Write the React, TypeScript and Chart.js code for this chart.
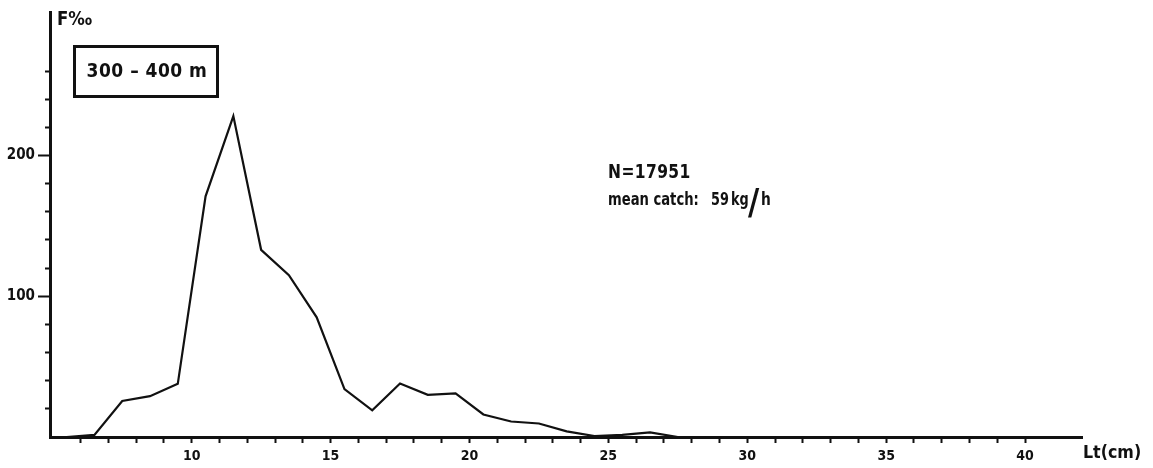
import React, { useEffect, useRef } from "react";
import { Chart, registerables } from "chart.js";

Chart.register(...registerables);

// ---- data ----
const lengthClasses = [5.5, 6.5, 7.5, 8.5, 9.5, 10.5, 11.5, 12.5, 13.5, 14.5, 15.5, 16.5, 17.5, 18.5, 19.5, 20.5, 21.5, 22.5, 23.5, 24.5, 25.5, 26.5, 27.5, 28.5];
const frequency = [0, 1.5, 25.6, 29, 37.8, 171, 228, 133, 115, 85, 34, 19, 38, 30, 31, 16, 11, 9.6, 4, 0.7, 1.5, 3.3, 0, 0];
const xLabelValues = [10, 15, 20, 25, 30, 35, 40];
const yLabelValues = [100, 200];
const depthLabel = "300 – 400 m";
const sampleLabel = "N=17951";
const catchLabel = "mean catch:";
const catchValue = "59";
const catchUnitTop = "kg";
const catchSlash = "/";
const catchUnitBottom = "h";
const yTitle = "F‰";
const xTitle = "Lt(cm)";

const FONT = "'DejaVu Sans Condensed', 'Liberation Sans Narrow', 'Liberation Sans', sans-serif";
const INK = "#111";

function drawText(
  ctx: CanvasRenderingContext2D,
  s: string,
  x: number,
  y: number,
  size: number,
  sx: number,
  align: CanvasTextAlign = "left",
  spacing = 0
) {
  ctx.save();
  ctx.font = `bold ${size}px ${FONT}`;
  (ctx as any).letterSpacing = `${spacing}px`;
  ctx.textAlign = align;
  ctx.textBaseline = "alphabetic";
  ctx.translate(x, y);
  ctx.scale(sx, 1);
  ctx.fillText(s, 0, 0);
  ctx.restore();
}

const annotations = {
  id: "annotations",
  afterDraw(chart: any) {
    const ctx = chart.ctx as CanvasRenderingContext2D;
    ctx.save();
    ctx.fillStyle = INK;
    ctx.strokeStyle = INK;
    // depth box
    ctx.lineWidth = 3;
    ctx.strokeRect(74.5, 46.5, 143, 50);
    drawText(ctx, depthLabel, 147, 77, 20, 0.95, "center", 0.5);
    // axis titles
    drawText(ctx, yTitle, 57, 25, 20, 0.92);
    drawText(ctx, xTitle, 1083, 458, 18, 0.98);
    // N and catch
    drawText(ctx, sampleLabel, 608, 178, 20, 0.86, "left", 0.5);
    drawText(ctx, catchLabel, 608, 205, 17, 0.86);
    drawText(ctx, catchValue, 711, 205, 17, 0.84);
    drawText(ctx, catchUnitTop, 731, 205, 17, 0.84);
    drawText(ctx, catchSlash, 748, 214, 36, 0.95);
    drawText(ctx, catchUnitBottom, 761, 205, 17, 0.9);
    ctx.restore();
  },
};

export default function App() {
  const ref = useRef<HTMLCanvasElement | null>(null);

  useEffect(() => {
    document.body.style.margin = "0";
    document.body.style.background = "#fff";
    const canvas = ref.current;
    if (!canvas) return;
    const chart = new Chart(canvas, {
      type: "line",
      data: {
        datasets: [
          {
            data: lengthClasses.map((x, i) => ({ x, y: frequency[i] })),
            borderColor: INK,
            borderWidth: 2.2,
            pointRadius: 0,
            tension: 0,
            fill: false,
          },
        ],
      },
      options: {
        animation: false,
        responsive: false,
        devicePixelRatio: 1,
        layout: { padding: { top: 8, right: 71, left: 0, bottom: 0 } },
        plugins: { legend: { display: false }, tooltip: { enabled: false } },
        scales: {
          x: {
            type: "linear",
            min: 4.9,
            max: 42.05,
            afterFit: (s: any) => {
              s.height = 31;
            },
            afterBuildTicks: (s: any) => {
              s.ticks = s.ticks.filter((t: any) => t.value >= 6 && t.value <= 40);
            },
            border: { display: true, color: INK, width: 3 },
            grid: {
              display: true,
              drawOnChartArea: false,
              drawTicks: true,
              tickLength: 6,
              tickColor: INK,
              tickWidth: 2,
            },
            ticks: {
              stepSize: 1,
              includeBounds: false,
              autoSkip: false,
              maxRotation: 0,
              padding: 5,
              color: INK,
              font: { family: FONT, size: 14, weight: "bold" },
              callback: (v: any) => (xLabelValues.includes(Number(v)) ? String(v) : ""),
            },
          },
          y: {
            type: "linear",
            min: 0,
            max: 302,
            afterFit: (s: any) => {
              s.width = 50;
            },
            afterBuildTicks: (s: any) => {
              s.ticks = s.ticks.filter((t: any) => t.value >= 20 && t.value <= 260);
            },
            border: { display: true, color: INK, width: 3 },
            grid: {
              display: true,
              drawOnChartArea: false,
              drawTicks: true,
              tickLength: 12,
              tickColor: INK,
              tickWidth: 2,
              tickBorderDash: (c: any) => (yLabelValues.includes(c.tick?.value) ? [] : [0, 7, 5, 100]),
            },
            ticks: {
              stepSize: 20,
              includeBounds: false,
              autoSkip: false,
              padding: 3,
              color: INK,
              font: { family: FONT, size: 15, weight: "bold" },
              callback: (v: any) => (yLabelValues.includes(Number(v)) ? String(v) : ""),
            },
          },
        },
      },
      plugins: [annotations],
    });
    return () => chart.destroy();
  }, []);

  return (
    <div style={{ width: 1153, height: 468, position: "relative", background: "#fff" }}>
      <canvas ref={ref} width={1153} height={468} style={{ width: 1153, height: 468, display: "block" }} />
    </div>
  );
}
